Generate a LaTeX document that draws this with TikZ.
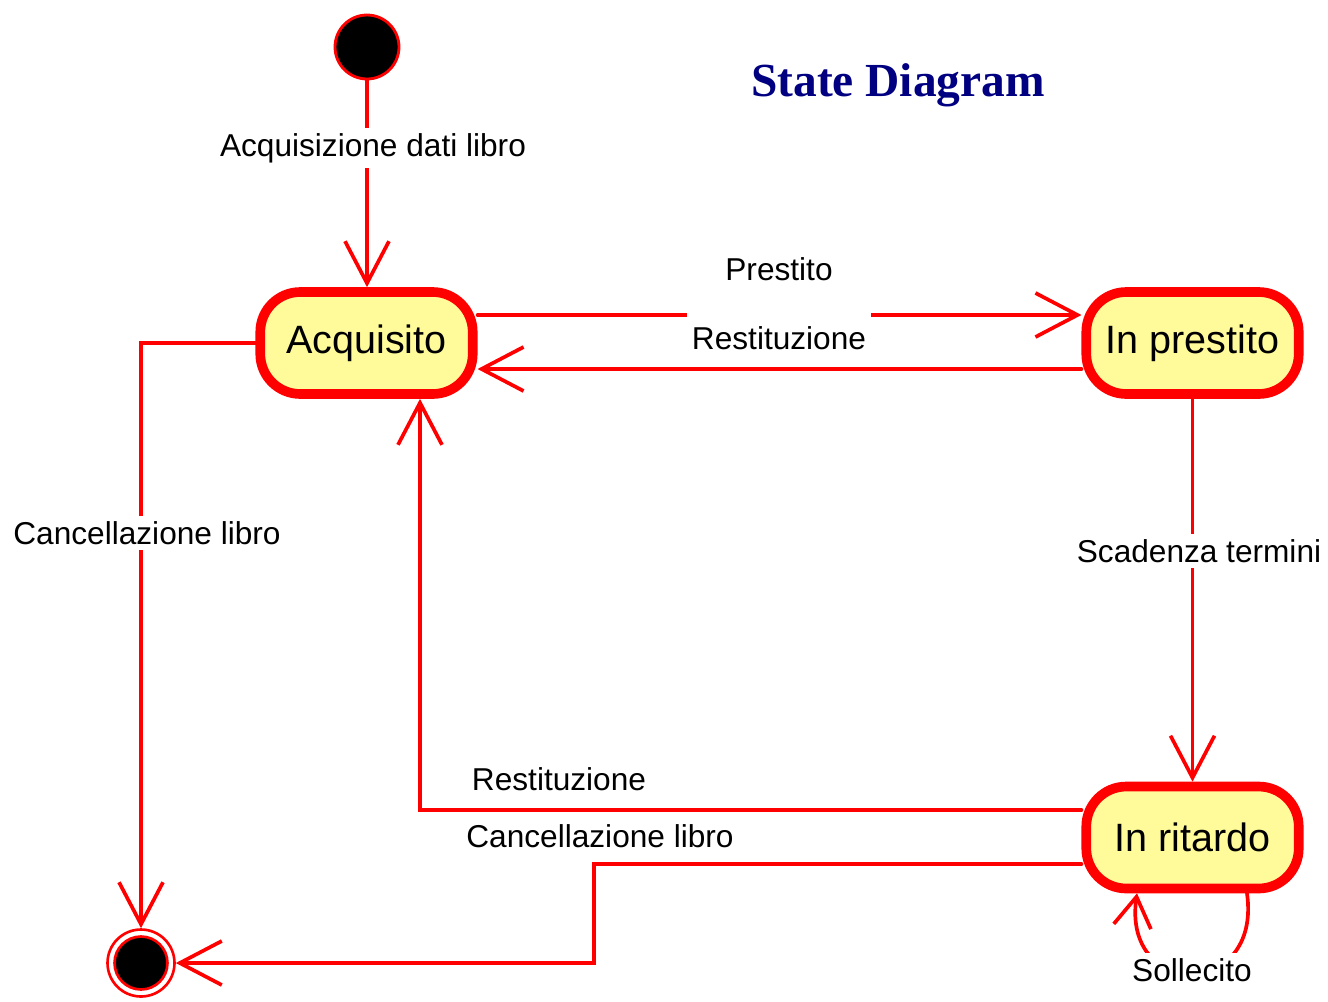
\documentclass[tikz,border=0pt]{standalone}
\usepackage{fontspec}
\setmainfont{Liberation Sans}
\newfontfamily\titlefont{Liberation Serif}
\usetikzlibrary{arrows.meta}
\definecolor{statefill}{RGB}{255,251,155}
\definecolor{titleblue}{RGB}{0,0,128}

\begin{document}
\begin{tikzpicture}[x=0.02cm, y=-0.02cm,
    state/.style={draw=red, line width=5.5pt, fill=statefill, rounded corners=0.8cm,
      minimum width=4.25cm, minimum height=2.04cm, font=\fontsize{22.5}{26}\selectfont},
    trans/.style={draw=red, line width=2.1pt, line cap=round,
      -{Straight Barb[length=0.84cm, width=0.88cm]}},
    lbl/.style={fill=white, inner sep=3pt, font=\fontsize{18}{21}\selectfont}]

    \useasboundingbox (0,0) rectangle (1328,1001);

    % Title
    \node[font=\titlefont\bfseries\fontsize{27}{30}\selectfont, text=titleblue] (title) at (898,85) {State Diagram};

    % Initial and final states
    \node[circle, fill=black, draw=red, line width=1.6pt, minimum size=1.28cm] (init) at (367,47) {};
    \node[circle, draw=red, line width=1.5pt, minimum size=1.34cm] (fin) at (141,963) {};
    \node[circle, fill=black, draw=red, line width=1.5pt, minimum size=1.06cm] (finin) at (fin) {};

    % States
    \node[state] (acq) at (366.5,343) {Acquisito};
    \node[state] (prest) at (1192.5,343) {In prestito};
    \node[state] (rit) at (1192.5,837.5) {In ritardo};

    % Start -> Acquisito
    \draw[trans] (init.south) -- (init.south |- acq.north);
    \node[lbl] (lacq) at (373,148) {Acquisizione dati libro};

    % Acquisito <-> In prestito
    \draw[trans] (acq.east |- 0,315) -- (prest.west |- 0,315);
    \draw[trans] (prest.west |- 0,369) -- (acq.east |- 0,369);
    \node[lbl] (lpre) at (779,269) {Prestito};
    \node[lbl, inner ysep=10pt] (lres) at (779,338) {Restituzione};

    % Acquisito -> final
    \draw[trans] (acq.west) -| (fin.north);
    \node[lbl] (lcan) at (147,533) {Cancellazione libro};

    % In prestito -> In ritardo
    \draw[trans] (prest.south) -- (rit.north);
    \node[lbl] (lsca) at (1199,551) {Scadenza termini};

    % In ritardo -> Acquisito
    \draw[trans] (rit.west |- 0,810) -| (420,0 |- acq.south);
    \node[lbl] (lres2) at (559,779) {Restituzione};

    % In ritardo -> final
    \draw[trans] (rit.west |- 0,864) -| (594,963) -- (fin.east);
    \node[lbl] (lcan2) at (600,836) {Cancellazione libro};

    % Self loop on In ritardo
    \draw[trans, -{Straight Barb[length=0.6cm, width=0.75cm]}] (1247,0 |- rit.south)
      .. controls (1262,1000) and (1122,1000) .. (1137,0 |- rit.south);
    \node[lbl] (lsol) at (1192,970) {Sollecito};

\end{tikzpicture}
\end{document}
